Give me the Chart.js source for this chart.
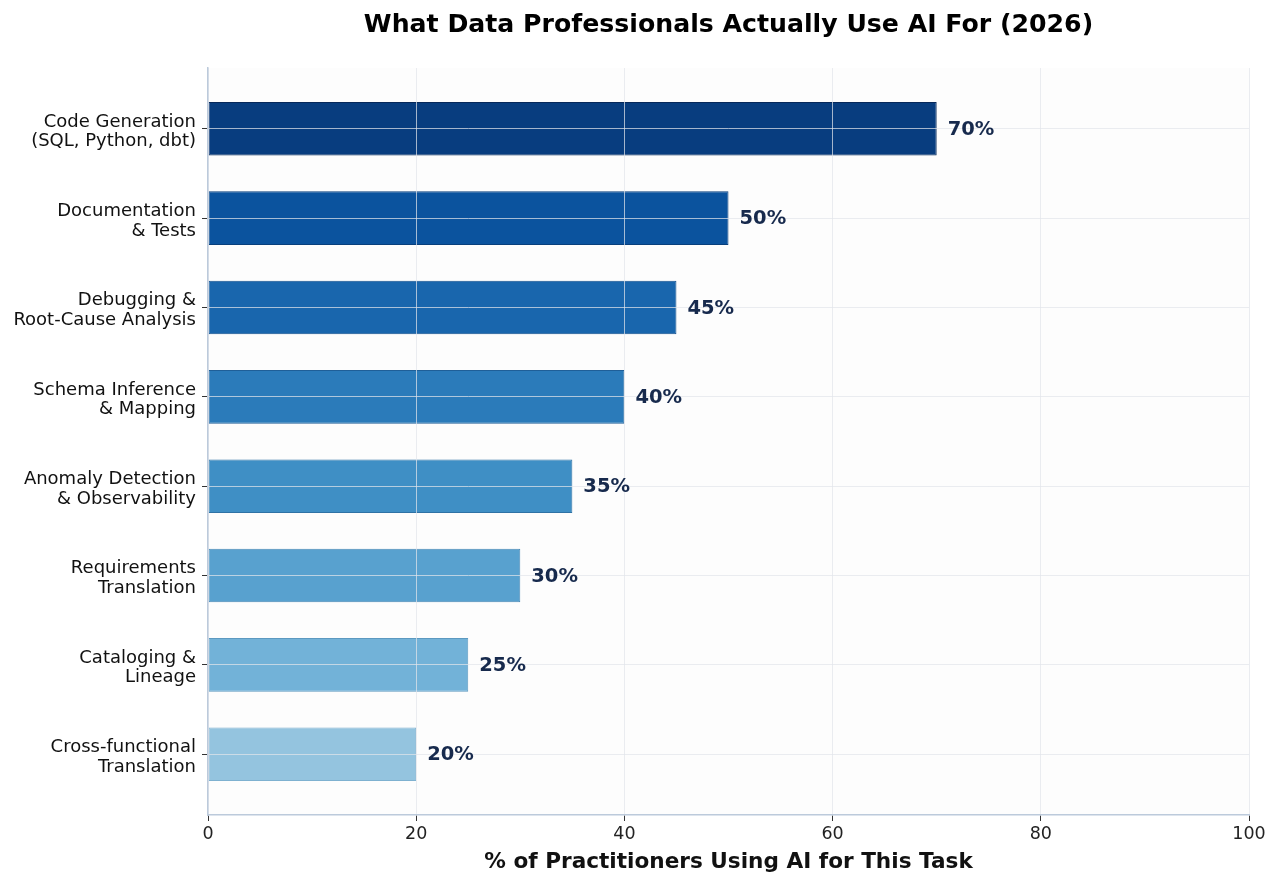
<!DOCTYPE html>
<html>
<head>
<meta charset="utf-8">
<script src="https://cdn.jsdelivr.net/npm/chart.js@4/dist/chart.umd.min.js"></script>
<style>
  html, body { margin: 0; padding: 0; background: #fff; }
  #wrap { width: 1280px; height: 886px; }
</style>
</head>
<body>
<div id="wrap"><canvas id="myChart"></canvas></div>
<script>
// data
const categories = [
  "Code Generation\n(SQL, Python, dbt)",
  "Documentation\n& Tests",
  "Debugging &\nRoot-Cause Analysis",
  "Schema Inference\n& Mapping",
  "Anomaly Detection\n& Observability",
  "Requirements\nTranslation",
  "Cataloging &\nLineage",
  "Cross-functional\nTranslation"
];
const values = [70, 50, 45, 40, 35, 30, 25, 20];
const xTicks = [0, 20, 40, 60, 80, 100];

const barColors = ["#083d7f", "#0b539e", "#1966ad", "#2b7bba", "#3f8fc5", "#58a1cf", "#72b2d8", "#94c4df"];
const edgeColors = ["#06285a", "#083f7c", "#114f8c", "#1f5f98", "#2f72a5", "#4586b4", "#5c99c0", "#7eb1d0"];

const font = "'DejaVu Sans', sans-serif";

// plot background
const bgPlugin = {
  id: 'bg',
  beforeDraw(chart) {
    const ctx = chart.ctx, a = chart.chartArea;
    ctx.save();
    ctx.fillStyle = '#ffffff';
    ctx.fillRect(0, 0, chart.width, chart.height);
    ctx.fillStyle = '#fdfdfd';
    ctx.fillRect(a.left, a.top, a.right - a.left, a.bottom - a.top);
    ctx.restore();
  }
};

// value labels at bar ends
const labelPlugin = {
  id: 'valueLabels',
  afterDraw(chart) {
    const ctx = chart.ctx;
    const meta = chart.getDatasetMeta(0);
    ctx.save();
    ctx.font = "bold 19.5px " + font;
    ctx.fillStyle = '#172a4d';
    ctx.textAlign = 'left';
    ctx.textBaseline = 'middle';
    meta.data.forEach((bar, i) => {
      ctx.fillText(values[i] + '%', bar.x + 11, bar.y + 1);
    });
    ctx.restore();
  }
};

const data = {
  datasets: [{
    data: values.map((v, i) => ({ x: v, y: i })),
    backgroundColor: barColors,
    borderColor: edgeColors,
    borderWidth: 1,
    borderSkipped: false,
    barPercentage: 0.6,
    categoryPercentage: 1.0
  }]
};

const gridColor = 'rgba(226,229,234,0.72)';

const config = {
  type: 'bar',
  data: data,
  options: {
    indexAxis: 'y',
    responsive: true,
    maintainAspectRatio: false,
    animation: false,
    layout: { padding: { left: 0, right: 31, top: 0, bottom: 0 } },
    plugins: {
      legend: { display: false },
      tooltip: { enabled: false },
      title: {
        display: true,
        fullSize: false,
        text: 'What Data Professionals Actually Use AI For (2026)',
        color: '#000',
        font: { family: font, size: 25.2, weight: 'bold' },
        padding: { top: 10, bottom: 27.8 }
      }
    },
    scales: {
      x: {
        type: 'linear',
        min: 0,
        max: 100,
        afterBuildTicks(scale) { scale.ticks = xTicks.map(v => ({ value: v })); },
        afterFit(scale) { scale.height = 71; },
        ticks: {
          color: '#222',
          font: { family: font, size: 17.5 },
          padding: 3
        },
        grid: {
          z: 1,
          color: gridColor,
          lineWidth: 1,
          tickColor: '#333',
          tickLength: 6
        },
        border: { display: true, color: '#bccadb', width: 1.5, z: 2 },
        title: {
          display: true,
          text: '% of Practitioners Using AI for This Task',
          color: '#111',
          font: { family: font, size: 21.6, weight: 'bold' },
          padding: { top: 0, bottom: 11 }
        }
      },
      y: {
        type: 'linear',
        min: -0.68,
        max: 7.68,
        reverse: true,
        offset: false,
        afterBuildTicks(scale) { scale.ticks = categories.map((c, i) => ({ value: i })); },
        afterFit(scale) { scale.width = 208; },
        ticks: {
          color: '#111',
          font: { family: font, size: 18, lineHeight: 1.1 },
          padding: 6,
          labelOffset: 3,
          callback: (v) => categories[v] ? categories[v].split('\n') : ''
        },
        grid: {
          z: 1,
          offset: false,
          color: gridColor,
          lineWidth: 1,
          tickColor: '#333',
          tickLength: 6
        },
        border: { display: true, color: '#bccadb', width: 1.5, z: 2 }
      }
    }
  },
  plugins: [bgPlugin, labelPlugin]
};

const myChart = new Chart(document.getElementById('myChart'), config);
</script>
</body>
</html>
